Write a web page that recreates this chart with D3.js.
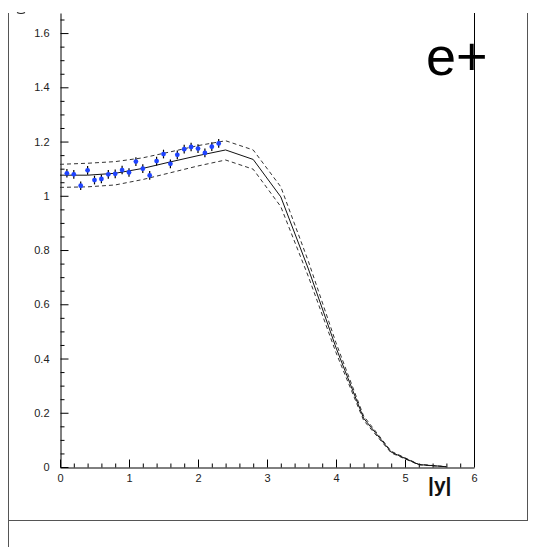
<!DOCTYPE html>
<html>
<head>
<meta charset="utf-8">
<script src="https://cdn.jsdelivr.net/npm/d3@7"></script>
<style>
  html, body { margin: 0; padding: 0; background: #fff; }
  svg { display: block; font-family: "Liberation Sans", Arial, Helvetica, sans-serif; }
</style>
</head>
<body>
<svg id="chart" width="543" height="547"></svg>
<script>
// Measured points: rapidity bins and ratio values
const pointX = [0.1, 0.2, 0.3, 0.4, 0.5, 0.6, 0.7, 0.8, 0.9, 1.0, 1.1, 1.2,
                1.3, 1.4, 1.5, 1.6, 1.7, 1.8, 1.9, 2.0, 2.1, 2.2, 2.3];
const pointY = [1.083, 1.079, 1.037, 1.094, 1.058, 1.062, 1.079, 1.081, 1.095, 1.086, 1.126, 1.100,
                1.075, 1.128, 1.154, 1.118, 1.151, 1.172, 1.180, 1.174, 1.158, 1.181, 1.193];
const pointErr = [0.016, 0.016, 0.016, 0.016, 0.016, 0.016, 0.016, 0.016, 0.016, 0.016, 0.016, 0.016,
                  0.016, 0.016, 0.016, 0.016, 0.016, 0.016, 0.016, 0.016, 0.016, 0.016, 0.016];

// Prediction curve (central) and its band edges
const curveX     = [0.0, 0.4, 0.8, 1.2, 1.6, 2.0, 2.4, 2.8, 3.2, 3.6, 4.0, 4.4, 4.8, 5.2, 5.6];
const curveMid   = [1.076, 1.076, 1.083, 1.101, 1.125, 1.148, 1.169, 1.134, 0.996, 0.730, 0.440, 0.180, 0.055, 0.009, 0.001];
const curveUpper = [1.116, 1.120, 1.126, 1.140, 1.162, 1.185, 1.203, 1.169, 1.033, 0.758, 0.458, 0.188, 0.058, 0.010, 0.001];
const curveLower = [1.031, 1.033, 1.040, 1.060, 1.085, 1.110, 1.132, 1.098, 0.960, 0.702, 0.422, 0.172, 0.052, 0.008, 0.001];

// Axis ticks
const xMajor = [0, 1, 2, 3, 4, 5, 6];
const xMinor = d3.range(0, 30).map(i => i * 0.2).filter(v => Math.abs(v - Math.round(v)) > 1e-6);
const yMajor = [0, 0.2, 0.4, 0.6, 0.8, 1.0, 1.2, 1.4, 1.6];
const yMinor = d3.range(0, 34).map(i => i * 0.05).filter(v => Math.abs(v * 5 - Math.round(v * 5)) > 1e-6);

const svg = d3.select("#chart");

const x = d3.scaleLinear().domain([0, 6]).range([60, 474]);
const y = d3.scaleLinear().domain([0, 1.674]).range([467, 13]);

// Outer frame
const frame = svg.append("g").attr("stroke", "#555").attr("stroke-width", 1).attr("fill", "none");
frame.append("line").attr("x1", 8.5).attr("x2", 8.5).attr("y1", 13).attr("y2", 547);
frame.append("line").attr("x1", 8).attr("x2", 527.5).attr("y1", 520.5).attr("y2", 520.5);
frame.append("line").attr("x1", 527.5).attr("x2", 527.5).attr("y1", 13).attr("y2", 521);

// Fragment of a heading above the frame
svg.append("path")
  .attr("d", "M17,12.5 Q21,14.5 25,12.5")
  .attr("stroke", "#222").attr("stroke-width", 1.2).attr("fill", "none");

// Right-hand axis line
svg.append("line")
  .attr("x1", x(6) + 0.5).attr("x2", x(6) + 0.5)
  .attr("y1", y.range()[1]).attr("y2", y(0))
  .attr("stroke", "#000");

const fmt = v => String(+v.toFixed(1));

function styleAxis(g) {
  g.selectAll("text").attr("fill", "#222").style("font-size", "11px")
    .style("font-family", "'Liberation Sans', Arial, sans-serif");
  g.selectAll("line").attr("stroke", "#000");
  g.select(".domain").attr("stroke", "#000");
}

// X axis: minor then major ticks pointing into the plot
svg.append("g")
  .attr("transform", `translate(0,${y(0) + 0.5})`)
  .call(d3.axisBottom(x).tickValues(xMinor).tickSize(-4).tickFormat(""))
  .call(g => g.select(".domain").remove())
  .call(styleAxis);
svg.append("g")
  .attr("transform", `translate(0,${y(0) + 0.5})`)
  .call(d3.axisBottom(x).tickValues(xMajor).tickSize(-8).tickSizeOuter(0).tickPadding(7).tickFormat(fmt))
  .call(styleAxis);

// Y axis
svg.append("g")
  .attr("transform", `translate(${x(0) + 0.5},0)`)
  .call(d3.axisLeft(y).tickValues(yMinor).tickSize(-4).tickFormat(""))
  .call(g => g.select(".domain").remove())
  .call(styleAxis);
svg.append("g")
  .attr("transform", `translate(${x(0) + 0.5},0)`)
  .call(d3.axisLeft(y).tickValues(yMajor).tickSize(-8).tickSizeOuter(0).tickPadding(11).tickFormat(fmt))
  .call(styleAxis);

// Curves
const curveLine = vals => d3.line()
  .x((d, i) => x(curveX[i]))
  .y((d, i) => y(vals[i]))(vals);

svg.append("path").attr("d", curveLine(curveUpper))
  .attr("fill", "none").attr("stroke", "#333").attr("stroke-width", 1)
  .attr("stroke-dasharray", "4,3");
svg.append("path").attr("d", curveLine(curveLower))
  .attr("fill", "none").attr("stroke", "#333").attr("stroke-width", 1)
  .attr("stroke-dasharray", "4,3");
svg.append("path").attr("d", curveLine(curveMid))
  .attr("fill", "none").attr("stroke", "#111").attr("stroke-width", 1);

// Data points with error bars
const pts = pointX.map((px, i) => ({ x: px, y: pointY[i], e: pointErr[i] }));
const pg = svg.append("g");
pg.selectAll("line.err").data(pts).join("line")
  .attr("class", "err")
  .attr("x1", d => x(d.x)).attr("x2", d => x(d.x))
  .attr("y1", d => y(d.y + d.e)).attr("y2", d => y(d.y - d.e))
  .attr("stroke", "#000").attr("stroke-width", 1.2);
pg.selectAll("circle").data(pts).join("circle")
  .attr("cx", d => x(d.x)).attr("cy", d => y(d.y))
  .attr("r", 2.4).attr("fill", "#1f44ff");

// Axis title and panel label
svg.append("text")
  .attr("x", 428).attr("y", 492)
  .style("font-size", "21px").style("font-weight", "bold")
  .attr("fill", "#111")
  .text("|y|");

svg.append("text")
  .attr("x", 426).attr("y", 75)
  .style("font-size", "54px")
  .attr("fill", "#000")
  .text("e+");
</script>
</body>
</html>
